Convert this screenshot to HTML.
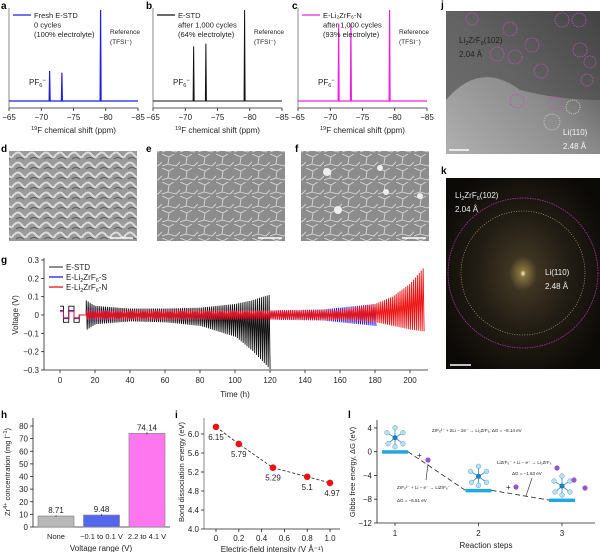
<!DOCTYPE html>
<html><head><meta charset="utf-8"><style>
body{margin:0;background:#fff}
svg{display:block;font-family:"Liberation Sans",Arial,sans-serif}
.t{font-size:8px;fill:#222}
.lg{font-size:7.5px;fill:#222}
.s{font-size:6.5px;fill:#222}
.lab{font-size:10px;font-weight:bold;fill:#000}
</style></head><body>
<svg id="fig" width="600" height="552" viewBox="0 0 600 552" xmlns="http://www.w3.org/2000/svg">
<defs>
<pattern id="sem1" width="14" height="10" patternUnits="userSpaceOnUse"><rect width="14" height="10" fill="#9a9a9a"/><path d="M0 5 Q4 0 8 5 T14 4" stroke="#dcdcdc" stroke-width="2" fill="none"/><path d="M2 9 Q6 6 10 9" stroke="#5a5a5a" stroke-width="1" fill="none"/></pattern>
<pattern id="sem2" width="18" height="14" patternUnits="userSpaceOnUse"><rect width="18" height="14" fill="#8c8c8c"/><path d="M0 0 L7 3 L12 0 M7 3 L6 10 L0 12 M6 10 L14 12 L18 8" stroke="#d8d8d8" stroke-width="0.9" fill="none"/></pattern>
<radialGradient id="kg" cx="0.5" cy="0.5" r="0.6"><stop offset="0" stop-color="#fff6d0"/><stop offset="0.03" stop-color="#8a7540"/><stop offset="0.15" stop-color="#3e3422"/><stop offset="0.5" stop-color="#221d14"/><stop offset="1" stop-color="#0c0a07"/></radialGradient>
<linearGradient id="jg" x1="0" y1="1" x2="1" y2="0"><stop offset="0" stop-color="#b0b0b0"/><stop offset="0.5" stop-color="#8a8a8a"/><stop offset="1" stop-color="#3a3a3a"/></linearGradient>
</defs>
<g id="nmr"></g>
<text class="lab" x="1" y="9">a</text>
<text class="lab" x="146" y="9">b</text>
<text class="lab" x="292" y="9">c</text>
<text class="lab" x="441" y="8">j</text>
<text class="lab" x="1" y="152">d</text>
<text class="lab" x="146" y="152">e</text>
<text class="lab" x="295" y="152">f</text>
<text class="lab" x="441" y="174">k</text>
<text class="lab" x="1" y="263">g</text>
<text class="lab" x="1" y="418">h</text>
<text class="lab" x="175" y="418">i</text>
<text class="lab" x="348" y="418">l</text>
<rect x="9" y="151" width="128" height="90" fill="url(#sem1)"/>
<rect x="157" y="151" width="128" height="90" fill="url(#sem2)"/>
<rect x="301" y="151" width="128" height="90" fill="url(#sem2)"/>
<g fill="#eee"><circle cx="327" cy="172" r="4"/><circle cx="338" cy="210" r="4"/><circle cx="380" cy="168" r="3"/><circle cx="386" cy="192" r="3"/><circle cx="420" cy="196" r="3"/></g>
<g stroke="#fff" stroke-width="1.5"><line x1="110" y1="238" x2="133" y2="238"/><line x1="258" y1="238" x2="282" y2="238"/><line x1="402" y1="238" x2="426" y2="238"/></g>
<rect x="446" y="11" width="154" height="143" fill="url(#jg)"/>
<path d="M446 100 Q480 60 520 90 Q560 100 600 100 L600 11 L446 11Z" fill="#4a4a4a" opacity="0.6"/>
<g stroke="#c050c0" fill="none" stroke-width="0.8" stroke-dasharray="1.5 1">
<circle cx="472" cy="19" r="6"/><circle cx="510" cy="29" r="7"/><circle cx="497" cy="54" r="7"/><circle cx="515" cy="57" r="7"/><circle cx="532" cy="45" r="7"/><circle cx="541" cy="71" r="7"/><circle cx="562" cy="20" r="7"/><circle cx="579" cy="20" r="7"/><circle cx="580" cy="50" r="7"/><circle cx="590" cy="62" r="6"/><circle cx="587" cy="80" r="6"/><circle cx="517" cy="101" r="7"/><circle cx="555" cy="103" r="6"/></g>
<g stroke="#ddd" fill="none" stroke-width="0.7" stroke-dasharray="1 1"><circle cx="552" cy="122" r="8"/><circle cx="573" cy="107" r="7"/></g>
<text x="459" y="43" font-size="8" fill="#222">Li<tspan font-size="5.5" dy="2">2</tspan><tspan dy="-2">ZrF</tspan><tspan font-size="5.5" dy="2">6</tspan><tspan dy="-2">(102)</tspan></text>
<text x="459" y="57" font-size="8" fill="#222">2.04 Å</text>
<text x="563" y="135" font-size="8" fill="#f4f4f4">Li(110)</text>
<text x="563" y="149" font-size="8" fill="#f4f4f4">2.48 Å</text>
<line x1="449" y1="150" x2="469" y2="150" stroke="#fff" stroke-width="1.5"/>
<rect x="446" y="178" width="154" height="191" fill="url(#kg)"/>
<circle cx="523" cy="273" r="62" fill="none" stroke="#c8b880" stroke-width="0.6" stroke-dasharray="1 1.5"/>
<circle cx="523" cy="273" r="75" fill="none" stroke="#b030b0" stroke-width="0.8" stroke-dasharray="1.5 1"/>
<text x="455" y="198" font-size="8" fill="#eee">Li<tspan font-size="5.5" dy="2">2</tspan><tspan dy="-2">ZrF</tspan><tspan font-size="5.5" dy="2">6</tspan><tspan dy="-2">(102)</tspan></text>
<text x="455" y="212" font-size="8" fill="#eee">2.04 Å</text>
<text x="545" y="275" font-size="8" fill="#eee">Li(110)</text>
<text x="545" y="289" font-size="8" fill="#eee">2.48 Å</text>
<line x1="450" y1="365" x2="471" y2="365" stroke="#fff" stroke-width="1.5"/>
<g id="gpanel"></g>
<g id="hpanel"></g>
<g id="ipanel"></g>
<g id="lpanel"></g>
</svg>
<script>
const NS="http://www.w3.org/2000/svg";
function mk(p,tag,at,txt){const e=document.createElementNS(NS,tag);for(const k in at)e.setAttribute(k,at[k]);if(txt!==undefined)e.textContent=txt;p.appendChild(e);return e;}

// ===== NMR panels a,b,c =====
const nmrTicks=[-65,-70,-75,-80,-85];
const nmrPeakPpm=[-71.3,-73.2,-79.2];
const nmrHeightsA=[0.33,0.31,1.0];
const nmrHeightsB=[0.6,0.63,1.0];
const nmrHeightsC=[0.85,0.85,1.0];
const nmrColors=["#1f1fe0","#111","#ee22dd"];
const nmrLegend=[["Fresh E-STD","0 cycles","(100% electrolyte)"],["E-STD","after 1,000 cycles","(64% electrolyte)"],["E-Li\u2082ZrF\u2086-N","after 1,000 cycles","(93% electrolyte)"]];
const nmrOffsets=[9,153,298];
const nmrAll=[nmrHeightsA,nmrHeightsB,nmrHeightsC];
const G=document.getElementById('nmr');
nmrOffsets.forEach((x0,pi)=>{
  const g=mk(G,'g',{});
  
  
  const w=129, base=101, top=10, bot=108;
  const sx=v=>x0+(v+65)/(-20)*w;
  const sy=h=>base-h*(base-top);
  mk(g,'line',{x1:x0,y1:top-2,x2:x0,y2:bot,stroke:'#888','stroke-width':1});
  mk(g,'line',{x1:x0,y1:bot,x2:x0+w,y2:bot,stroke:'#222','stroke-width':0.8});
  nmrTicks.forEach(t=>{const x=sx(t);mk(g,'line',{x1:x,y1:bot,x2:x,y2:bot+3,stroke:'#222','stroke-width':0.8});
    const tl=mk(g,'text',{x:x,y:bot+12,'text-anchor':'middle',class:'t'},'\u2212'+Math.abs(t));});
  const at=mk(g,'text',{x:x0+w/2,y:bot+25,'text-anchor':'middle',class:'t'});
  at.innerHTML='<tspan font-size="5.5" dy="-3">19</tspan><tspan dy="3">F chemical shift (ppm)</tspan>';
  
  const c=nmrColors[pi];
  let d='M'+x0+' '+base;
  nmrPeakPpm.forEach((p,i)=>{const x=sx(p);d+=' L'+(x-0.5)+' '+base+' L'+x+' '+sy(nmrAll[pi][i])+' L'+(x+0.5)+' '+base;});
  d+=' L'+(x0+w)+' '+base;
  const line=mk(g,'path',{d:d,stroke:c,fill:'none','stroke-width':pi==1?1:1.2});
  
  mk(g,'line',{x1:x0+4,y1:15,x2:x0+22,y2:15,stroke:c,'stroke-width':1.2});
  nmrLegend[pi].forEach((s,i)=>mk(g,'text',{x:x0+25,y:18+i*9.5,class:'lg'},s));
  mk(g,'text',{x:x0+101,y:34,class:'s'},'Reference');
  mk(g,'text',{x:x0+101,y:44,class:'s'},'(TFSI\u207B)');
  const pf=mk(g,'text',{x:x0+20,y:85,class:'t'});pf.innerHTML='PF<tspan font-size="5.5" dy="2">6</tspan><tspan dy="-5" font-size="6">\u2212</tspan>';
});

// ===== panel g =====
const gTimeTicks=[0,20,40,60,80,100,120,140,160,180,200];
const gVoltTicks=[0.3,0.2,0.1,0,-0.1,-0.2,-0.3];
const gSeries=["E-STD","E-Li2ZrF6-S","E-Li2ZrF6-N"];
const stdT=[15,20,40,60,80,100,110,116,120];
const stdUp=[0.08,0.05,0.035,0.035,0.04,0.06,0.08,0.1,0.11];
const stdLo=[-0.08,-0.05,-0.035,-0.04,-0.06,-0.12,-0.2,-0.26,-0.3];
const sT=[15,40,80,120,150,170,180];
const sUp=[0.03,0.025,0.025,0.025,0.03,0.05,0.06];
const sLo=[-0.03,-0.025,-0.025,-0.025,-0.03,-0.05,-0.06];
const nT=[15,40,80,120,160,180,190,200,208];
const nUp=[0.025,0.025,0.025,0.025,0.028,0.06,0.1,0.17,0.26];
const nLo=[-0.025,-0.025,-0.025,-0.025,-0.028,-0.04,-0.06,-0.08,-0.09];
const gInitT=[0,2,2,5,5,8,8,11,11,15];
const gInitV=[0.03,0.03,-0.025,-0.025,0.03,0.03,-0.025,-0.025,0,0];
const gp=document.getElementById('gpanel');
const gx=t=>60+t*1.75, gy=v=>315-v*183.3;
mk(gp,'line',{x1:44,y1:258,x2:44,y2:370,stroke:'#222','stroke-width':0.8});
mk(gp,'line',{x1:44,y1:370,x2:428,y2:370,stroke:'#222','stroke-width':0.8});
gVoltTicks.forEach(v=>{mk(gp,'line',{x1:41,y1:gy(v),x2:44,y2:gy(v),stroke:'#222','stroke-width':0.8});
  mk(gp,'text',{x:39,y:gy(v)+3,'text-anchor':'end',class:'t'},v==0?'0':(v<0?'\u2212':'')+Math.abs(v).toFixed(1));});
gTimeTicks.forEach(t=>{mk(gp,'line',{x1:gx(t),y1:370,x2:gx(t),y2:373,stroke:'#222','stroke-width':0.8});
  mk(gp,'text',{x:gx(t),y:383,'text-anchor':'middle',class:'t'},t);});
mk(gp,'text',{x:235,y:397,'text-anchor':'middle',class:'t'},'Time (h)');
mk(gp,'text',{x:18,y:315,'text-anchor':'middle',class:'t',transform:'rotate(-90 18 315)'},'Voltage (V)');
function interp(ts,vs,t){if(t<=ts[0])return vs[0];for(let i=1;i<ts.length;i++){if(t<=ts[i]){const f=(t-ts[i-1])/(ts[i]-ts[i-1]);return vs[i-1]+f*(vs[i]-vs[i-1]);}}return vs[vs.length-1];}
function cyc(ts,up,lo,color,w,name,k){
  let d='M'+gx(gInitT[0])+' '+gy(gInitV[0]*k);
  for(let i=1;i<gInitT.length;i++)d+=' L'+gx(gInitT[i])+' '+gy(gInitV[i]*k);
  const end=ts[ts.length-1];
  for(let t=ts[0];t<end;t+=1.1){d+=' L'+gx(t)+' '+gy(interp(ts,up,t))+' L'+gx(t+0.55)+' '+gy(interp(ts,lo,t));}
  const p=mk(gp,'path',{d:d,stroke:color,fill:'none','stroke-width':w});
  
}
cyc(stdT,stdUp,stdLo,'#111',0.9,'series-e-std',1.6);
cyc(sT,sUp,sLo,'#1a1ae6',0.9,'series-e-li2zrf6-s',0.8);
cyc(nT,nUp,nLo,'#ee1111',0.9,'series-e-li2zrf6-n',0.6);
const gLegC=['#555','#1a1ae6','#ee1111'];
gSeries.forEach((s,i)=>{const y=267+i*10;mk(gp,'line',{x1:49,y1:y,x2:63,y2:y,stroke:gLegC[i],'stroke-width':1.3});
  const tx=mk(gp,'text',{x:66,y:y+3,class:'t'});
  
  if(i==0)tx.textContent='E-STD';else tx.innerHTML='E-Li<tspan font-size="5.5" dy="2">2</tspan><tspan dy="-2">ZrF</tspan><tspan font-size="5.5" dy="2">6</tspan><tspan dy="-2">-'+(i==1?'S':'N')+'</tspan>';});

// ===== panel h =====
const hCats=["None","\u22120.1 to 0.1 V","2.2 to 4.1 V"];
const hVals=[8.71,9.48,74.14];
const hErr=[0.6,0.7,1.0];
const hColors=["#b8b8b8","#5566ee","#ff77ee"];
const hTicks=[0,10,20,30,40,50,60,70,80];
const hp=document.getElementById('hpanel');
const hy=v=>527-v*1.2625;
mk(hp,'line',{x1:33,y1:418,x2:33,y2:527,stroke:'#222','stroke-width':0.8});
mk(hp,'line',{x1:33,y1:527,x2:170,y2:527,stroke:'#222','stroke-width':0.8});
hTicks.forEach(v=>{mk(hp,'line',{x1:30,y1:hy(v),x2:33,y2:hy(v),stroke:'#222','stroke-width':0.8});mk(hp,'text',{x:28,y:hy(v)+3,'text-anchor':'end',class:'t'},v);});
hVals.forEach((v,i)=>{const x=38+i*45.5;
  const b=mk(hp,'rect',{x:x,y:hy(v),width:36,height:527-hy(v),fill:hColors[i],stroke:'#888','stroke-width':0.7});
  
  mk(hp,'line',{x1:x+18,y1:hy(v+hErr[i]),x2:x+18,y2:hy(v-hErr[i]),stroke:'#222','stroke-width':0.7});
  mk(hp,'text',{x:x+18,y:hy(v)-3,'text-anchor':'middle',class:'t'},v.toFixed(2));
  mk(hp,'text',{x:x+18,y:539,'text-anchor':'middle',class:'lg'},hCats[i]);});
mk(hp,'text',{x:101,y:551,'text-anchor':'middle',class:'t'},'Voltage range (V)');
const hyT=mk(hp,'text',{x:10,y:472,'text-anchor':'middle',class:'lg',transform:'rotate(-90 10 472)'});
hyT.innerHTML='Zr<tspan font-size="5.5" dy="-3">4+</tspan><tspan dy="3"> concentration (mg l</tspan><tspan font-size="5.5" dy="-3">\u22121</tspan><tspan dy="3">)</tspan>';

// ===== panel i =====
const iX=[0,0.2,0.5,0.8,1.0];
const iY=[6.15,5.79,5.29,5.1,4.97];
const iXTicks=[0,0.2,0.4,0.6,0.8,1.0];
const iYTicks=[4.0,4.4,4.8,5.2,5.6,6.0];
const ip=document.getElementById('ipanel');
const ix=v=>216+v*114, iy=v=>529-(v-4)*47.5;
mk(ip,'line',{x1:204,y1:418,x2:204,y2:529,stroke:'#888','stroke-width':1});
mk(ip,'line',{x1:204,y1:529,x2:340,y2:529,stroke:'#222','stroke-width':0.8});
iYTicks.forEach(v=>{mk(ip,'line',{x1:201,y1:iy(v),x2:204,y2:iy(v),stroke:'#222','stroke-width':0.8});mk(ip,'text',{x:199,y:iy(v)+3,'text-anchor':'end',class:'t'},v.toFixed(1));});
iXTicks.forEach(v=>{mk(ip,'line',{x1:ix(v),y1:529,x2:ix(v),y2:532,stroke:'#222','stroke-width':0.8});mk(ip,'text',{x:ix(v),y:541,'text-anchor':'middle',class:'t'},v==0?'0':v.toFixed(1));});
mk(ip,'text',{x:272,y:552,'text-anchor':'middle',class:'t'},'Electric-field intensity (V \u00C5\u207B\u00B9)');
mk(ip,'text',{x:184,y:472,'text-anchor':'middle',class:'lg',transform:'rotate(-90 184 472)'},'Bond dissociation energy (eV)');
let idp='M'+ix(iX[0])+' '+iy(iY[0]);for(let i=1;i<iX.length;i++)idp+=' L'+ix(iX[i])+' '+iy(iY[i]);
mk(ip,'path',{d:idp,stroke:'#222',fill:'none','stroke-width':0.8,'stroke-dasharray':'3 2'});
iX.forEach((v,i)=>{const c=mk(ip,'circle',{cx:ix(v),cy:iy(iY[i]),r:3.3,fill:'#ee1111'});
  
  mk(ip,'text',{x:ix(v)+(i==4?2:0),y:iy(iY[i])+13,'text-anchor':'middle',class:'t'},String(iY[i]));});

// ===== panel l =====
const lSteps=[1,2,3];
const lG=[0,-6.51,-8.14];
const lYTicks=[4,0,-4,-8,-12];
const lp=document.getElementById('lpanel');
const lx=v=>395+(v-1)*83.5, ly=v=>451.7-v*5.94;
mk(lp,'line',{x1:377,y1:420,x2:377,y2:523,stroke:'#222','stroke-width':0.8});
mk(lp,'line',{x1:377,y1:523,x2:595,y2:523,stroke:'#222','stroke-width':0.8});
lYTicks.forEach(v=>{mk(lp,'line',{x1:374,y1:ly(v),x2:377,y2:ly(v),stroke:'#222','stroke-width':0.8});mk(lp,'text',{x:372,y:ly(v)+3,'text-anchor':'end',class:'t'},v<0?'\u2212'+Math.abs(v):v);});
lSteps.forEach(s=>{mk(lp,'line',{x1:lx(s),y1:523,x2:lx(s),y2:526,stroke:'#222','stroke-width':0.8});mk(lp,'text',{x:lx(s),y:536,'text-anchor':'middle',class:'t'},s);});
mk(lp,'text',{x:486,y:548,'text-anchor':'middle',class:'t'},'Reaction steps');
mk(lp,'text',{x:355,y:472,'text-anchor':'middle',class:'lg',transform:'rotate(-90 355 472)'},'Gibbs free energy, \u0394G (eV)');
lSteps.forEach((s,i)=>{const b=mk(lp,'rect',{x:lx(s)-13,y:ly(lG[i])-1.5,width:26,height:3.5,fill:'#22a8e0'});
  
  if(i>0)mk(lp,'line',{x1:lx(lSteps[i-1])+13,y1:ly(lG[i-1]),x2:lx(s)-13,y2:ly(lG[i]),stroke:'#222','stroke-width':0.8,'stroke-dasharray':'5 3'});
  const cx=lx(s), cy=ly(lG[i])-14;
  mk(lp,'circle',{cx:cx,cy:cy,r:2.5,fill:'#2266aa'});
  [[-8,-5],[0,-10],[8,-5],[-7,6],[8,6],[0,9]].forEach(o=>{mk(lp,'line',{x1:cx,y1:cy,x2:cx+o[0],y2:cy+o[1],stroke:'#2288cc','stroke-width':0.8});mk(lp,'circle',{cx:cx+o[0],cy:cy+o[1],r:2.4,fill:'#aee6ee',stroke:'#559','stroke-width':0.3});});});
[[428,460],[516,487],[557,468],[574,480],[585,488]].forEach(p=>mk(lp,'circle',{cx:p[0],cy:p[1],r:2.6,fill:'#9955cc'}));
mk(lp,'text',{x:417,y:458,class:'t'},'+');mk(lp,'text',{x:506,y:490,class:'t'},'+');
mk(lp,'text',{x:432,y:432,'font-size':'4.5',fill:'#222'},'ZrF\u2086\u00B2\u207B + 2Li \u2212 2e\u207B \u2192 Li\u2082ZrF\u2086; \u0394G = \u22128.14 eV');
mk(lp,'text',{x:397,y:489,'font-size':'4.5',fill:'#222'},'ZrF\u2086\u00B2\u207B + Li \u2212 e\u207B \u2192 LiZrF\u2086\u207B');
mk(lp,'text',{x:397,y:502,'font-size':'4.5',fill:'#222'},'\u0394G = \u22126.51 eV');
mk(lp,'text',{x:497,y:464,'font-size':'4.5',fill:'#222'},'LiZrF\u2086\u207B + Li \u2212 e\u207B \u2192 Li\u2082ZrF\u2086');
mk(lp,'text',{x:512,y:475,'font-size':'4.5',fill:'#222'},'\u0394G = \u22121.63 eV');
mk(lp,'line',{x1:428,y1:464,x2:426,y2:480,stroke:'#222','stroke-width':0.6});
mk(lp,'line',{x1:526,y1:496,x2:532,y2:478,stroke:'#222','stroke-width':0.6});
</script>
</body></html>
